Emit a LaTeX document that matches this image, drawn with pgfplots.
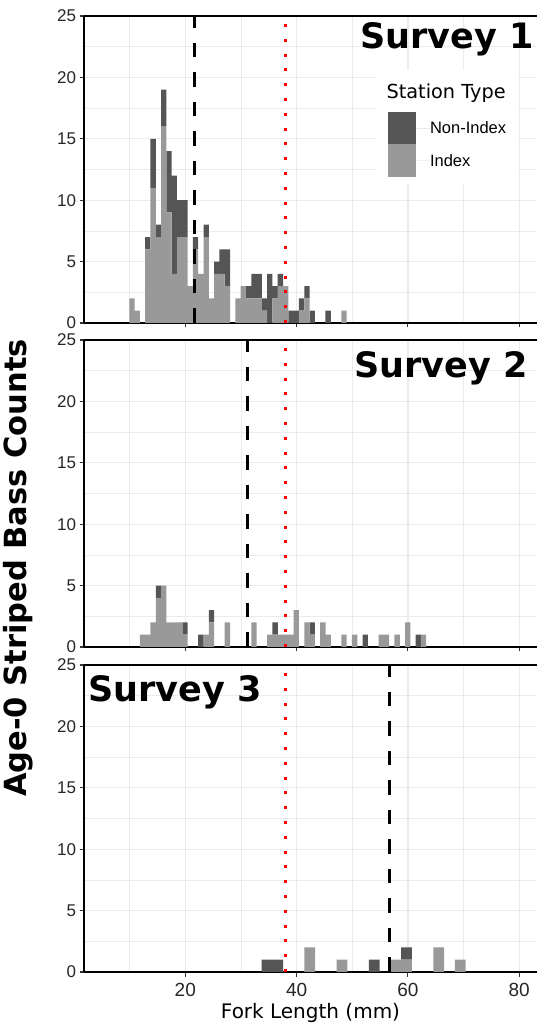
\documentclass[border=0pt]{standalone}
\usepackage{fontspec}
\setmainfont{Liberation Sans}
\newfontfamily\dejavu{DejaVu Sans}
\usepackage{pgfplots}
\usepackage{pgfplotstable}
\pgfplotsset{compat=1.18}
\definecolor{idx}{HTML}{999999}
\definecolor{nidx}{HTML}{555555}
\definecolor{gridc}{HTML}{EBEBEB}

% Survey 1 (bin centre, Index, Non-Index)
\pgfplotstableread{
x L D
10.41 2 0
11.36 1 0
12.31 0 0
13.27 6 1
14.22 11 4
15.17 7 1
16.13 16 3
17.08 9 5
18.03 4 8
18.99 7 3
19.94 7 3
20.89 3 0
21.84 6 1
22.80 4 0
23.75 7 1
24.70 2 0
25.66 4 1
26.61 4 2
27.56 3 3
28.51 0 0
29.47 2 0
30.42 3 0
31.37 2 1
32.33 2 2
33.28 2 2
34.23 1 1
35.19 0 4
36.14 2 1
37.09 3 1
38.04 3 0
39.00 0 1
39.95 0 1
40.90 1 1
41.86 2 1
42.81 0 1
43.76 0 0
44.72 0 0
45.67 0 1
46.62 0 0
47.57 0 0
48.53 1 0
}\surveyA

% Survey 2
\pgfplotstableread{
x L D
12.31 1 0
13.27 1 0
14.22 2 0
15.17 4 1
16.13 5 0
17.08 2 0
18.03 2 0
18.99 2 0
19.94 1 1
20.89 0 0
21.84 0 0
22.80 0 1
23.75 1 0
24.70 2 1
25.66 0 0
26.61 0 0
27.56 2 0
28.51 0 0
29.47 0 0
30.42 0 0
31.37 0 0
32.33 2 0
33.28 0 0
34.23 0 0
35.19 1 0
36.14 1 1
37.09 1 0
38.04 1 0
39.00 1 0
39.95 3 0
40.90 0 0
41.86 2 0
42.81 1 1
43.76 0 0
44.72 2 0
45.67 1 0
46.62 0 0
47.57 0 0
48.53 1 0
49.48 0 0
50.43 1 0
51.39 0 0
52.34 0 1
53.29 0 0
54.24 0 0
55.20 1 0
56.15 1 0
57.10 0 0
58.06 1 0
59.01 0 0
59.96 2 0
60.92 0 0
61.87 0 1
62.82 1 0
}\surveyB

% Survey 3
\pgfplotstableread{
x L D
34.665 0 1
36.595 0 1
42.385 2 0
48.175 1 0
53.965 0 1
57.825 1 0
59.755 1 1
65.545 2 0
69.405 1 0
}\surveyC

\pgfplotsset{
  panel/.style={
    scale only axis, width=453pt, height=307pt,
    xmin=1.8, xmax=83.2, ymin=0, ymax=25, enlargelimits=false,
    xtick={20,40,60,80}, minor xtick={10,30,50,70},
    ytick={0,5,10,15,20,25}, minor ytick={2.5,7.5,12.5,17.5,22.5},
    grid=both,
    major grid style={gridc, line width=1.3pt},
    minor grid style={gridc, line width=0.7pt},
    axis lines*=left,
    axis line style={black, line width=1.2pt},
    tick align=outside, major tick length=4.5pt, minor tick length=0pt,
    major tick style={black!80, line width=1.1pt},
    /pgf/number format/assume math mode=true,
    yticklabel style={font=\fontsize{17}{17}\selectfont, text=black!85},
    xticklabel style={font=\fontsize{19}{19}\selectfont, text=black!85, yshift=-3pt},
    clip=false,
    ybar stacked, bar width=0.953,
  },
  linepanel/.style={
    scale only axis, width=453pt, height=307pt,
    xmin=1.8, xmax=83.2, ymin=0, ymax=25, enlargelimits=false,
    hide axis, clip=false,
  },
}

\begin{document}
\begin{tikzpicture}
\useasboundingbox (0,0) rectangle (537pt,1030pt);

% ---------------- Survey 1 ----------------
\begin{axis}[panel, at={(84pt,707pt)}, anchor=south west, xticklabels={},
  legend style={at={(0.6711,0.6873)}, anchor=north west, draw=none, fill=none,
    inner sep=0pt, outer sep=0pt, row sep=0pt, column sep=0pt,
    font=\fontsize{16.5}{16.5}\selectfont, nodes={inner sep=0pt, anchor=west}},
  legend cell align=left, reverse legend,
  legend image code/.code={\fill[#1] (0pt,-16pt) rectangle (28pt,16.5pt); \path (0pt,0pt) -- (42pt,0pt);},
]
\addplot[fill=idx, draw=none] table[x=x, y=L] {\surveyA};
\addlegendentry{Index}
\addplot[fill=nidx, draw=none] table[x=x, y=D] {\surveyA};
\addlegendentry{Non-Index}
\fill[white] (rel axis cs:0.6446,0.456) rectangle (rel axis cs:0.958,0.824);
\draw[black, line width=1.2pt] (rel axis cs:0,1) -- (rel axis cs:1,1);
\end{axis}
\begin{axis}[linepanel, at={(84pt,707pt)}, anchor=south west]
\addplot[black, line width=2.8pt, dash pattern=on 14.5pt off 15pt] coordinates {(21.62,0) (21.62,25)};
\addplot[red, line width=3pt, dash pattern=on 3pt off 11.8pt] coordinates {(38.05,0) (38.05,25)};
\end{axis}
\node[anchor=base west, font=\dejavu\fontsize{19.3}{19.3}\selectfont] at (383pt,931pt) {Station Type};

% ---------------- Survey 2 ----------------
\begin{axis}[panel, at={(84pt,383pt)}, anchor=south west, xticklabels={}]
\addplot[fill=idx, draw=none] table[x=x, y=L] {\surveyB};
\addplot[fill=nidx, draw=none] table[x=x, y=D] {\surveyB};
\draw[black, line width=1.2pt] (rel axis cs:0,1) -- (rel axis cs:1,1);
\end{axis}
\begin{axis}[linepanel, at={(84pt,383pt)}, anchor=south west]
\addplot[black, line width=2.8pt, dash pattern=on 14.5pt off 15pt] coordinates {(31.21,0) (31.21,25)};
\addplot[red, line width=3pt, dash pattern=on 3pt off 11.8pt] coordinates {(38.05,0) (38.05,25)};
\end{axis}

% ---------------- Survey 3 ----------------
\begin{axis}[panel, at={(84pt,58pt)}, anchor=south west]
\addplot[fill=idx, draw=none, bar width=1.93] table[x=x, y=L] {\surveyC};
\addplot[fill=nidx, draw=none, bar width=1.93] table[x=x, y=D] {\surveyC};
\draw[black, line width=1.2pt] (rel axis cs:0,1) -- (rel axis cs:1,1);
\end{axis}
\begin{axis}[linepanel, at={(84pt,58pt)}, anchor=south west]
\addplot[black, line width=2.8pt, dash pattern=on 14.5pt off 15pt] coordinates {(56.66,0) (56.66,25)};
\addplot[red, line width=3pt, dash pattern=on 3pt off 11.8pt] coordinates {(38.05,0) (38.05,25)};
\end{axis}

% ---------------- titles and labels ----------------
\node[anchor=base east, inner sep=0pt, font=\dejavu\bfseries\fontsize{35}{35}\selectfont] at (534pt,981pt) {Survey 1};
\node[anchor=base east, inner sep=0pt, font=\dejavu\bfseries\fontsize{35}{35}\selectfont] at (528pt,652pt) {Survey 2};
\node[anchor=base west, inner sep=0pt, font=\dejavu\bfseries\fontsize{35}{35}\selectfont] at (88pt,328pt) {Survey 3};
\node[anchor=base, font=\dejavu\fontsize{20}{20}\selectfont] at (310.5pt,12pt) {Fork Length (mm)};
\node[rotate=90, anchor=center, font=\dejavu\bfseries\fontsize{30.5}{30.5}\selectfont] at (18pt,462pt) {Age-0 Striped Bass Counts};
\end{tikzpicture}
\end{document}
